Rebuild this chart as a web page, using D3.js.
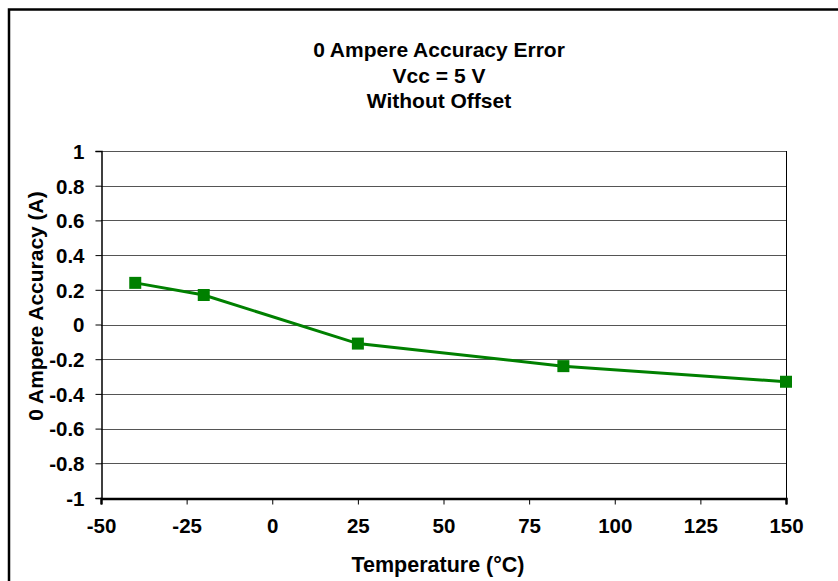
<!DOCTYPE html>
<html>
<head>
<meta charset="utf-8">
<script src="https://cdn.jsdelivr.net/npm/d3@7"></script>
<style>
  body { margin: 0; background: #fff; }
  text { font-family: "Liberation Sans", Arial, sans-serif; font-weight: bold; fill: #000; }
</style>
</head>
<body>
<svg id="chart" width="838" height="581"></svg>
<script>
// Chart data
let titleLines = ["0 Ampere Accuracy Error", "Vcc = 5 V", "Without Offset"];
let temperatures = [-40, -20, 25, 85, 150];
let accuracy = [0.24, 0.17, -0.11, -0.24, -0.33];
let xTicks = [-50, -25, 0, 25, 50, 75, 100, 125, 150];
let yTicks = [-1, -0.8, -0.6, -0.4, -0.2, 0, 0.2, 0.4, 0.6, 0.8, 1];

let plot = {left: 101, right: 786, top: 151, bottom: 498};

// plain hyphen for negatives, like the original
let fmt = d => String(d);

let svg = d3.select("#chart");

// outer frame, runs off the right and bottom edges
svg.append("rect")
  .attr("x", 9).attr("y", 9.5)
  .attr("width", 840).attr("height", 590)
  .attr("fill", "none")
  .attr("stroke", "#000")
  .attr("stroke-width", 2.5);

let x = d3.scaleLinear().domain([-50, 150]).range([plot.left, plot.right]);
let y = d3.scaleLinear().domain([-1, 1]).range([plot.bottom, plot.top]);

// horizontal gridlines
svg.append("g")
  .selectAll("line")
  .data(yTicks.filter(d => d > -1))
  .join("line")
    .attr("x1", plot.left).attr("x2", plot.right)
    .attr("y1", d => Math.round(y(d)) + 0.5)
    .attr("y2", d => Math.round(y(d)) + 0.5)
    .attr("stroke", "#555")
    .attr("stroke-width", 1.2);

// right edge of the plot
svg.append("line")
  .attr("x1", plot.right + 0.5).attr("x2", plot.right + 0.5)
  .attr("y1", plot.top).attr("y2", plot.bottom)
  .attr("stroke", "#000");

// y axis
let yAxis = svg.append("g")
  .attr("transform", `translate(${plot.left + 0.5},0)`)
  .call(d3.axisLeft(y).tickValues(yTicks).tickSize(6).tickPadding(11).tickFormat(fmt));
yAxis.select(".domain").attr("stroke-width", 1.5);
yAxis.selectAll("text").style("font-size", "20.5px").attr("dy", "0.36em");

// x axis
let xAxis = svg.append("g")
  .attr("transform", `translate(0,${plot.bottom + 0.5})`)
  .call(d3.axisBottom(x).tickValues(xTicks).tickSize(6).tickPadding(14).tickFormat(fmt));
xAxis.select(".domain").attr("stroke-width", 2.5);
xAxis.selectAll("text").style("font-size", "20.5px");

// series line
let points = temperatures.map((t, i) => [t, accuracy[i]]);
svg.append("path")
  .datum(points)
  .attr("fill", "none")
  .attr("stroke", "#008000")
  .attr("stroke-width", 3)
  .attr("d", d3.line().x(d => x(d[0])).y(d => y(d[1])));

// square markers
svg.append("g")
  .selectAll("rect")
  .data(points)
  .join("rect")
    .attr("x", d => x(d[0]) - 6)
    .attr("y", d => y(d[1]) - 6)
    .attr("width", 12).attr("height", 12)
    .attr("fill", "#008000");

// title
svg.append("text")
  .attr("text-anchor", "middle")
  .style("font-size", "21px")
  .selectAll("tspan")
  .data(titleLines)
  .join("tspan")
    .attr("x", 439)
    .attr("y", (d, i) => 57 + i * 25.5)
    .text(d => d);

// axis titles
svg.append("text")
  .attr("x", 438).attr("y", 572)
  .attr("text-anchor", "middle")
  .style("font-size", "21.5px")
  .text("Temperature (°C)");

svg.append("text")
  .attr("transform", "translate(43,306) rotate(-90)")
  .attr("text-anchor", "middle")
  .style("font-size", "21px")
  .text("0 Ampere Accuracy (A)");
</script>
</body>
</html>
